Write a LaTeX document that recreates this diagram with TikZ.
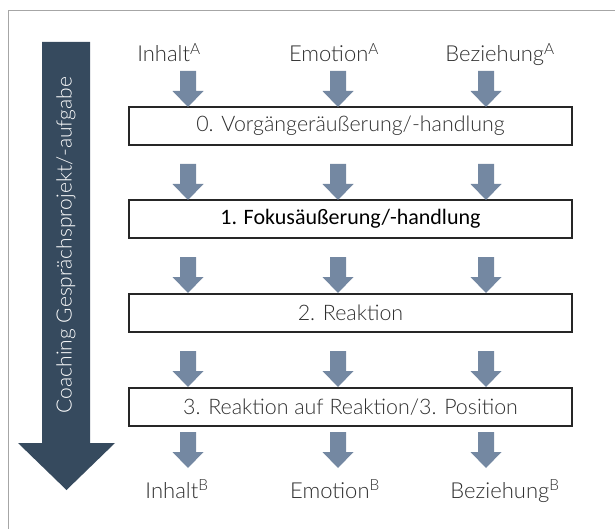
\documentclass[tikz,border=0pt]{standalone}
\usepackage{fontspec}
\setmainfont{Lato Light}
\newfontfamily\boxfont{Carlito}
\definecolor{slate}{HTML}{364A5E}
\definecolor{arrowblue}{HTML}{7488A2}
\definecolor{txtgray}{HTML}{2E2E2E}
\tikzset{
  flowbox/.style={draw=black!85, line width=1.1pt, minimum width=443pt, minimum height=38pt,
    inner sep=0pt, font=\fontsize{21.4}{22}\selectfont, text=txtgray},
  lbl/.style={anchor=base, font=\fontsize{22}{24}\selectfont, text=txtgray}
}
% block arrow: centre x, top y
\newcommand{\blockarrow}[2]{\fill[arrowblue] (#1-8,#2) -- (#1+8,#2) -- (#1+8,#2+20) -- (#1+15.5,#2+20)
  -- (#1,#2+36) -- (#1-15.5,#2+20) -- (#1-8,#2+20) -- cycle;}
\begin{document}
\begin{tikzpicture}[x=1pt,y=-1pt]
\useasboundingbox (0,0) rectangle (615,529);
\draw[gray!70, line width=1pt] (8,529) -- (8,11) -- (615,11);
% big arrow
\fill[slate] (42,42) -- (90,42) -- (90,443) -- (115,443) -- (66.5,490) -- (18,443) -- (42,443) -- cycle;
\node[rotate=90, text=white, font=\fontsize{21}{22}\selectfont] (coach) at (66,245) {Coaching Gesprächsprojekt/-aufgabe};
% boxes
\node[flowbox] (b0) at (350.5,126) {0. Vorgängeräußerung/-handlung};
\node[flowbox, font=\boxfont\fontsize{22}{23}\selectfont, text=black] (b1) at (350.5,219) {1. Fokusäußerung/-handlung};
\node[flowbox] (b2) at (350.5,313) {2. Reaktion};
\node[flowbox] (b3) at (350.5,407) {3. Reaktion auf Reaktion/3. Position};
% labels
\node[lbl] (inA) at (169,62) {Inhalt\textsuperscript{A}};
\node[lbl] (emA) at (334,62) {Emotion\textsuperscript{A}};
\node[lbl] (bzA) at (500,62) {Beziehung\textsuperscript{A}};
\node[lbl] (inB) at (177,498) {Inhalt\textsuperscript{B}};
\node[lbl] (emB) at (335,498) {Emotion\textsuperscript{B}};
\node[lbl] (bzB) at (505,498) {Beziehung\textsuperscript{B}};
% arrows
\foreach \x in {188,338,486}
  \foreach \y in {71,164,257,351,432}
    {\blockarrow{\x}{\y}}
\end{tikzpicture}
\end{document}
